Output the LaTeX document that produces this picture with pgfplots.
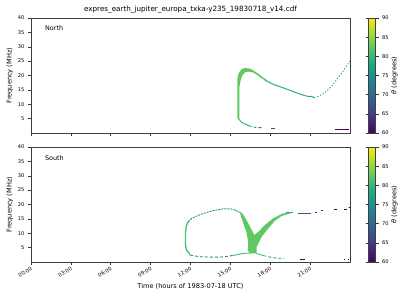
\documentclass[border=0pt]{standalone}
\usepackage{fontspec}
\setmainfont{DejaVu Sans}
\usepackage{pgfplots}
\pgfplotsset{compat=1.18}
\definecolor{cA}{HTML}{5EC962}
\definecolor{cB}{HTML}{44BF70}
\definecolor{cC}{HTML}{35B779}
\definecolor{cD}{HTML}{22A884}
\definecolor{cE}{HTML}{1F9E89}
\definecolor{cF}{HTML}{21918C}
\definecolor{cG}{HTML}{31688E}
\definecolor{cH}{HTML}{3B528B}
\definecolor{cI}{HTML}{482475}
\definecolor{cJ}{HTML}{440154}
\pgfplotsset{
  base/.style={
    scale only axis, width=319pt, height=115pt,
    xmin=0, xmax=24, ymin=0, ymax=40,
    xtick={0,3,...,21}, ytick={5,10,...,40},
    tick align=outside, xtick pos=left, ytick pos=left,
    major tick length=3pt,
    tick style={black!80, line width=0.5pt},
    axis line style={black!75, line width=0.6pt},
    ticklabel style={font=\fontsize{5.1}{6}\selectfont},
    /pgf/number format/assume math mode=true,
    ylabel={Frequency (MHz)},
    ylabel style={font=\fontsize{6.6}{7}\selectfont, yshift=-2pt},
    colormap/viridis, point meta min=60, point meta max=90,
    colorbar,
    colorbar style={
      width=7pt, at={(parent axis.north east)}, anchor=north west, xshift=10pt,
      ytick={60,65,...,90}, tick align=outside, major tick length=3pt,
      tick style={black!80, line width=0.5pt},
      axis line style={black!75, line width=0.6pt},
      yticklabel style={font=\fontsize{5.1}{6}\selectfont},
      /pgf/number format/assume math mode=true,
      ylabel={\textit{θ} (degrees)},
      ylabel style={font=\fontsize{6.6}{7}\selectfont, yshift=4pt},
    },
  }
}
\begin{document}
\begin{tikzpicture}
\path[use as bounding box] (0,0) rectangle (400pt,300pt);
% ---------------- North ----------------
\begin{axis}[base, at={(31pt,167pt)}, anchor=south west,
  xticklabels={},
  title={expres\_earth\_jupiter\_europa\_txka-y235\_19830718\_v14.cdf},
  title style={font=\fontsize{7.2}{8}\selectfont, yshift=-5pt}]
\addplot[fill=cA, draw=none] coordinates {
 (15.53,5.0) (15.53,18.7) (15.62,20.8) (15.85,22.2) (16.05,22.55) (16.4,22.5)
 (16.73,21.8) (17.0,20.9) (17.3,19.9) (17.73,18.4)
 (17.73,17.9) (17.3,19.2) (17.0,20.2) (16.73,21.0) (16.35,21.4) (16.1,21.1)
 (15.9,20.0) (15.78,18.5) (15.68,16.0) (15.68,5.0) (15.53,5.0)};
\addplot[cC, line width=1.1pt] coordinates {
 (17.6,18.5) (17.73,18.1) (18.23,16.9) (18.98,15.7) (19.5,14.8)};
\addplot[cD, line width=1.0pt] coordinates {
 (19.5,14.8) (20.2,13.6) (20.75,12.8) (21.1,12.7) (21.37,12.25)};
\addplot[cE, line width=0.9pt, dash pattern=on 1.2pt off 1.8pt] coordinates {
 (21.55,12.6) (21.9,13.4) (22.25,14.6) (22.63,16.3) (23.0,18.65) (23.5,21.6) (23.88,24.3) (24,25)};
\addplot[cC, line width=1.0pt] coordinates {
 (15.6,5.0) (15.67,4.65) (15.85,3.7) (16.1,3.15) (16.35,2.6) (16.6,2.2)};
\addplot[cF, line width=0.9pt] coordinates {(16.75,2.05) (16.95,1.95)};
\addplot[cF, line width=0.9pt] coordinates {(17.1,1.9) (17.35,1.85)};
\addplot[cH, line width=0.9pt] coordinates {(18.05,1.6) (18.36,1.6)};
\addplot[cJ!85!cI, line width=0.9pt] coordinates {(22.87,1.4) (23.95,1.4)};
\node[anchor=west, font=\fontsize{6.4}{7}\selectfont] at (axis cs:0.8,36.5) {North};
\end{axis}
% ---------------- South ----------------
\begin{axis}[base, at={(31pt,38pt)}, anchor=south west,
  xticklabels={00:00,03:00,06:00,09:00,12:00,15:00,18:00,21:00},
  xticklabel style={rotate=30, anchor=north east, inner sep=1pt},
  xlabel={Time (hours of 1983-07-18 UTC)},
  xlabel style={font=\fontsize{6.6}{7}\selectfont, yshift=-1pt}]
\addplot[cF, line width=0.9pt, dash pattern=on 2pt off 1pt] coordinates {
 (11.84,14.0) (12.1,15.2) (12.47,16.0) (12.97,16.9) (13.72,17.9) (14.47,18.5)
 (14.97,18.5) (15.3,18.2)};
\addplot[cB, line width=0.9pt] coordinates {(15.3,18.2) (15.55,17.6) (15.8,17.0)};
\addplot[cB, line width=1.3pt] coordinates {
 (11.84,14.0) (11.7,12.9) (11.62,10) (11.62,6) (11.7,4.2) (11.8,3.6) (11.96,2.6)};
\addplot[fill=cA, draw=none] coordinates {
 (15.73,17.0) (15.97,13.5) (16.23,10.0) (16.35,6.5) (16.3,4.2) (16.48,3.0)
 (16.98,3.0) (16.98,5.3) (17.36,8.8) (17.86,11.7) (18.36,14.4) (18.86,16.0)
 (19.5,16.9) (19.5,17.4) (18.86,16.7) (18.23,15.2) (17.6,12.9) (17.1,10.5)
 (16.8,9.4) (16.48,12.3) (16.1,15.5) (15.85,17.2) (15.73,17.0)};
\addplot[cF, line width=0.9pt, dash pattern=on 3pt off 2pt] coordinates {
 (11.96,2.4) (12.34,2.1) (12.7,1.85) (13.47,1.7) (14.2,1.7) (14.6,1.85) (15.2,2.3)};
\addplot[cB, line width=0.9pt] coordinates {(15.2,2.3) (15.35,2.4) (15.97,3.0) (16.5,3.1)};
\addplot[cB, line width=0.9pt] coordinates {(16.95,3.0) (17.36,2.4) (17.7,2.0)};
\addplot[cE, line width=0.9pt, dash pattern=on 3pt off 2pt] coordinates {
 (17.86,1.85) (18.2,1.5) (18.7,1.3) (19.05,1.3)};
\addplot[cJ, line width=0.9pt] coordinates {(20.24,0.97) (20.6,0.97)};
\addplot[cJ, line width=0.9pt] coordinates {(23.55,0.8) (23.65,0.8)};
\addplot[cJ, line width=0.9pt] coordinates {(23.85,0.8) (23.95,0.8)};
\addplot[cE, line width=0.9pt] coordinates {(19.2,17.3) (19.7,17.3)};
\addplot[cH, line width=0.9pt] coordinates {(20.1,16.9) (21.05,16.9)};
\addplot[cI, line width=0.9pt] coordinates {(21.4,17.3) (21.5,17.3)};
\addplot[cI, line width=0.9pt] coordinates {(21.8,17.9) (21.95,17.9)};
\addplot[cJ, line width=0.9pt] coordinates {(22.8,18.2) (23.05,18.2)};
\addplot[cJ, line width=0.9pt] coordinates {(23.57,18.4) (23.75,18.4)};
\addplot[cJ, line width=0.9pt] coordinates {(23.9,18.9) (24,19.0)};
\node[anchor=west, font=\fontsize{6.4}{7}\selectfont] at (axis cs:0.8,36.2) {South};
\end{axis}
\end{tikzpicture}
\end{document}
